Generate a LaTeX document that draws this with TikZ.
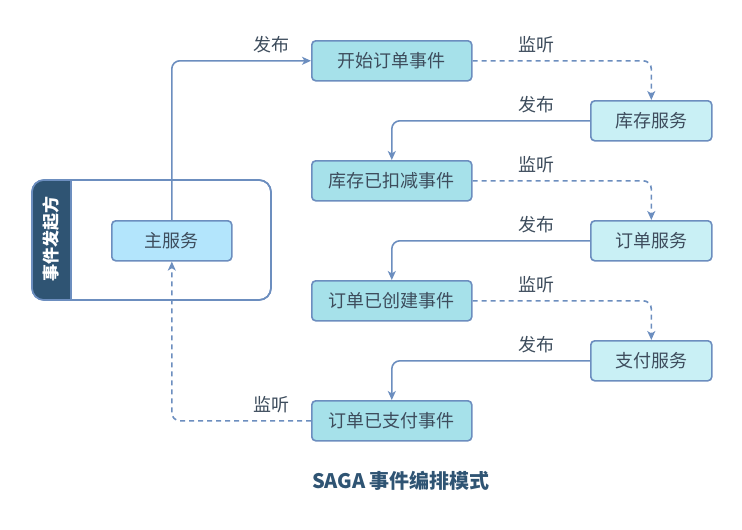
\documentclass[tikz,border=0pt]{standalone}
\usepackage{fontspec}
\setmainfont{Noto Sans CJK SC}
\usetikzlibrary{arrows.meta,positioning}
\definecolor{edge}{HTML}{6C8EBF}
\definecolor{txt}{HTML}{3D4C5C}
\definecolor{band}{HTML}{2F5473}
\definecolor{evfill}{HTML}{A6E1EA}
\definecolor{svfill}{HTML}{C9F0F5}
\definecolor{mainfill}{HTML}{B3E5FC}
\tikzset{
  box/.style={draw=edge, line width=1.6pt, rounded corners=4pt, minimum width=160pt, minimum height=40pt, inner sep=0pt, font=\fontsize{18}{20}\selectfont, text=txt, anchor=north west},
  evbox/.style={box, fill=evfill},
  svbox/.style={box, fill=svfill, minimum width=121pt},
  mainbox/.style={box, fill=mainfill, minimum width=120pt},
  conn/.style={draw=edge, line width=1.6pt, rounded corners=8pt, -{Stealth[length=9pt,width=8pt,inset=2.5pt]}},
  listen/.style={conn, dash pattern=on 5pt off 4pt},
  lbl/.style={font=\fontsize{18}{20}\selectfont, text=txt},
}
\begin{document}
\begin{tikzpicture}[x=1pt,y=-1pt]
\useasboundingbox (0,0) rectangle (742,530);
% container
\draw[draw=edge, line width=1.6pt, rounded corners=12pt, fill=white] (32,180) rectangle (271,300);
\begin{scope}
\clip[rounded corners=12pt] (32,180) rectangle (271,300);
\fill[band] (32,180) rectangle (71,300);
\end{scope}
\draw[draw=edge, line width=1.6pt, rounded corners=12pt] (32,180) rectangle (271,300);
\draw[draw=edge, line width=1.6pt] (71,180) -- (71,300);
\node[rotate=90, text=white, font=\bfseries\fontsize{17}{19}\selectfont] (initiator) at (51.5,239) {事件发起方};
% nodes
\node[mainbox] (main) at (111,220) {主服务};
\node[evbox] (e1) at (311,40) {开始订单事件};
\node[svbox] (s1) at (590,100) {库存服务};
\node[evbox] (e2) at (311,160) {库存已扣减事件};
\node[svbox] (s2) at (590,220) {订单服务};
\node[evbox] (e3) at (311,280) {订单已创建事件};
\node[svbox] (s3) at (590,340) {支付服务};
\node[evbox] (e4) at (311,400) {订单已支付事件};
% connectors
\coordinate (c0) at (main.north |- e1.west);
\draw[conn] (main.north) -- (c0) -- (e1.west);
\coordinate (c1) at (s1.north |- e1.east);
\draw[listen] (e1.east) -- (c1) -- (s1.north);
\coordinate (c2) at (e2.north |- s1.west);
\draw[conn] (s1.west) -- (c2) -- (e2.north);
\coordinate (c3) at (s2.north |- e2.east);
\draw[listen] (e2.east) -- (c3) -- (s2.north);
\coordinate (c4) at (e3.north |- s2.west);
\draw[conn] (s2.west) -- (c4) -- (e3.north);
\coordinate (c5) at (s3.north |- e3.east);
\draw[listen] (e3.east) -- (c5) -- (s3.north);
\coordinate (c6) at (e4.north |- s3.west);
\draw[conn] (s3.west) -- (c6) -- (e4.north);
\coordinate (c7) at (main.south |- e4.west);
\draw[listen] (e4.west) -- (c7) -- (main.south);
% labels
\node[lbl] (l0) at (271,45) {发布};
\node[lbl] (l1) at (536,45) {监听};
\node[lbl] (l2) at (536,105) {发布};
\node[lbl] (l3) at (536,165) {监听};
\node[lbl] (l4) at (536,225) {发布};
\node[lbl] (l5) at (536,285) {监听};
\node[lbl] (l6) at (536,345) {发布};
\node[lbl] (l7) at (271,405) {监听};
\node[text=band, font=\bfseries\fontsize{20}{22}\selectfont] (title) at (401,481) {SAGA 事件编排模式};
\end{tikzpicture}
\end{document}
